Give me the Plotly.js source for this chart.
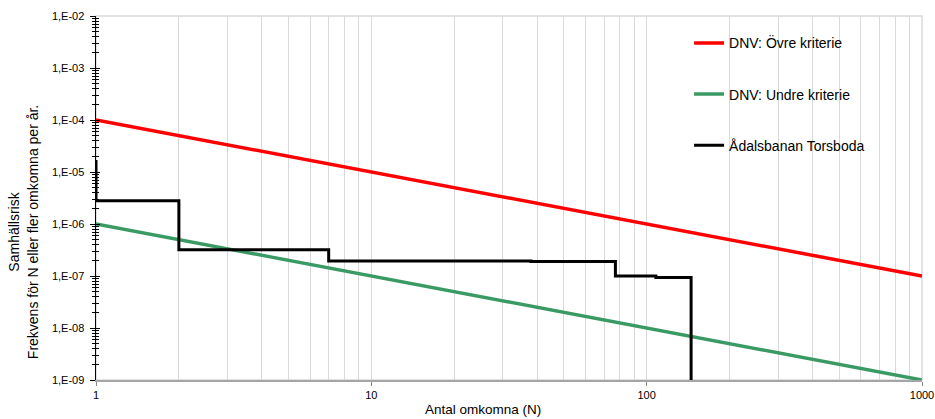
<!DOCTYPE html>
<html><head><meta charset="utf-8">
<script src="https://cdn.plot.ly/plotly-3.0.1.min.js"></script>
<style>html,body{margin:0;padding:0;background:#fff}#c{width:935px;height:419px}</style>
</head><body><div id="c"></div>
<script>
// Criteria lines (N, frequency)
const critN = [1, 1000];
const upperCrit = [1e-4, 1e-7];
const lowerCrit = [1e-6, 1e-9];
// FN-curve Ådalsbanan Torsboda (step points)
const stepN = [1, 1, 2, 7, 38, 77, 108, 145, 145];
const stepF = [1.7e-5, 2.8e-6, 3.2e-7, 1.95e-7, 1.9e-7, 1.0e-7, 9.4e-8, 9.4e-8, 1e-9];
// Axis ticks
const yTickVals = [1e-9, 1e-8, 1e-7, 1e-6, 1e-5, 1e-4, 1e-3, 1e-2];
const yTickText = ["1,E-09","1,E-08","1,E-07","1,E-06","1,E-05","1,E-04","1,E-03","1,E-02"];
const xTickVals = [1, 10, 100, 1000];
const xTickText = ["1","10","100","1000"];
const names = ["DNV: Övre kriterie", "DNV: Undre kriterie", "Ådalsbanan Torsboda"];

const FONT = "Liberation Sans, Arial, sans-serif";
const traces = [
  {x: critN, y: upperCrit, mode: "lines", name: names[0], line: {color: "#ff0000", width: 3.5}, legendgroup: "a"},
  {x: critN, y: lowerCrit, mode: "lines", name: names[1], line: {color: "#3a9a63", width: 3.5}, legendgroup: "b"},
  {x: stepN, y: stepF, mode: "lines", name: names[2], line: {color: "#000000", width: 3, shape: "hv"}, legendgroup: "c"},
  {x: critN, y: upperCrit, yaxis: "y2", mode: "lines", showlegend: false, hoverinfo: "skip", line: {width: 0, color: "rgba(0,0,0,0)"}}
];
const layout = {
  width: 935, height: 419,
  margin: {l: 95.5, r: 13, t: 16, b: 39},
  paper_bgcolor: "#fff", plot_bgcolor: "#fff",
  font: {family: FONT, size: 11, color: "#000"},
  showlegend: true,
  legend: {x: 0.718, xanchor: "left", y: 0.969, yanchor: "top", bgcolor: "rgba(0,0,0,0)",
           font: {family: FONT, size: 14, color: "#000"}, tracegroupgap: 30, traceorder: "grouped", itemwidth: 30},
  xaxis: {type: "log", range: [0, 3], tickvals: xTickVals, ticktext: xTickText,
          showgrid: true, gridcolor: "#d9d9d9", gridwidth: 1,
          minor: {dtick: "D1", showgrid: true, gridcolor: "#d9d9d9", gridwidth: 1, ticks: ""},
          ticks: "outside", ticklen: 4, tickcolor: "#888", showline: true, linecolor: "#a6a6a6", linewidth: 1.5,
          zeroline: false, tickfont: {family: FONT, size: 11}},
  yaxis: {type: "log", range: [-9, -2], tickvals: yTickVals, ticktext: yTickText,
          showgrid: false, ticks: "outside", ticklen: 5, tickcolor: "#000", tickwidth: 1, ticklabelstandoff: 3,
          minor: {dtick: "D1", ticks: "outside", ticklen: 3, tickcolor: "#000", showgrid: false},
          showline: true, linecolor: "#000", linewidth: 1.5, zeroline: false, tickfont: {family: FONT, size: 11}},
  yaxis2: {type: "log", range: [-9, -2], overlaying: "y", side: "left", showticklabels: false,
           tickvals: yTickVals, ticks: "inside", ticklen: 4, tickcolor: "#000",
           minor: {dtick: "D1", ticks: "inside", ticklen: 3, tickcolor: "#000", showgrid: false},
           showgrid: false, showline: false, zeroline: false},
  shapes: [
    {type: "rect", xref: "paper", yref: "paper", x0: 0.659, x1: 1, y0: 0.575, y1: 1, fillcolor: "#fff", line: {width: 0}, layer: "below"},
    {type: "rect", xref: "paper", yref: "paper", x0: 0, x1: 1, y0: 0, y1: 1, fillcolor: "rgba(0,0,0,0)", line: {color: "#d9d9d9", width: 1.5}, layer: "below"}
  ],
  annotations: [
    {text: "Samhällsrisk<br>Frekvens för N eller fler omkomna per år.", xref: "paper", yref: "paper",
     x: -0.065, xanchor: "right", y: 0.407, yanchor: "middle", textangle: -90, showarrow: false,
     font: {family: FONT, size: 14, color: "#000"}},
    {text: "Antal omkomna (N)", xref: "paper", yref: "paper", x: 0.469, xanchor: "center",
     y: -0.08, yanchor: "middle", showarrow: false, font: {family: FONT, size: 13.5, color: "#000"}}
  ]
};
Plotly.newPlot("c", traces, layout, {staticPlot: true, displayModeBar: false});
</script></body></html>
